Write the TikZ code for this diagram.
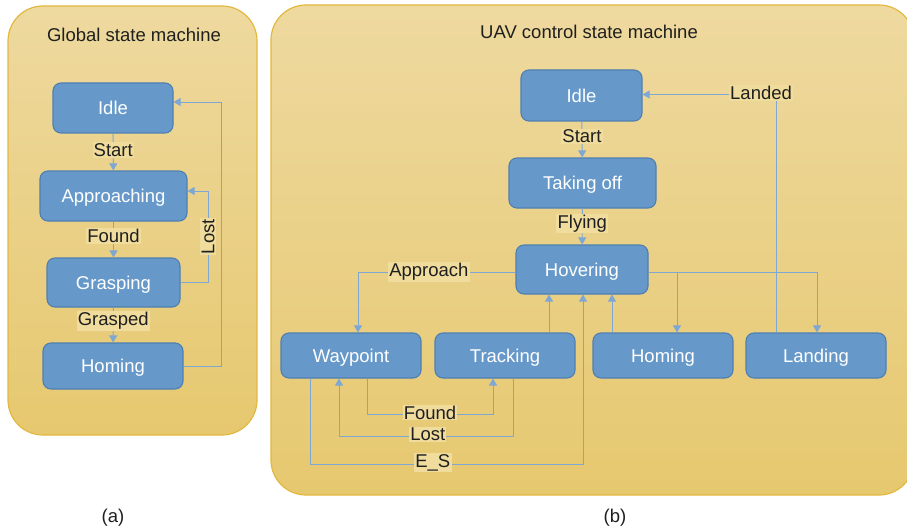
\documentclass[tikz,border=0pt]{standalone}
\usepackage{fontspec}
\setmainfont{Liberation Sans}
\usetikzlibrary{arrows.meta}
\definecolor{panelTop}{HTML}{EED99F}
\definecolor{panelBot}{HTML}{E6C86F}
\definecolor{panelLine}{HTML}{E3B840}
\definecolor{nodeFill}{HTML}{6699C9}
\definecolor{nodeLine}{HTML}{4F7FB2}
\definecolor{wireCol}{HTML}{7FA7D4}
\definecolor{lblbg}{HTML}{F0DC9C}
\begin{document}
\begin{tikzpicture}[x=1pt,y=-1pt,
  state/.style={draw=nodeLine, line width=1.1pt, fill=nodeFill, rounded corners=8pt,
    text=white, font=\fontsize{18.5}{22}\selectfont, inner sep=0pt, text height=13.2pt, text depth=0pt},
  lbl/.style={fill=lblbg, text=black!88, font=\fontsize{18.5}{22}\selectfont, inner sep=1.2pt},
  wire/.style={draw=wireCol, line width=0.9pt, -{Triangle[length=7pt,width=8pt]}},
  panel/.style={draw=panelLine, line width=1.2pt, top color=panelTop, bottom color=panelBot, rounded corners=35pt},
  ttl/.style={text=black!88, font=\fontsize{18.5}{22}\selectfont}]
\useasboundingbox (0,0) rectangle (907,532);
% panels
\path[panel] (8,6) rectangle (257,435);
\path[panel] (271,5) rectangle (914,495);
\node[ttl] (gTitle) at (134,35) {Global state machine};
\node[ttl] (uTitle) at (589,32) {UAV control state machine};
\node[ttl] (capA) at (113,518) {(a)};
\node[ttl] (capB) at (615,518) {(b)};
% left states
\node[state, minimum width=120pt, minimum height=50pt] (gIdle) at (113,108) {Idle};
\node[state, minimum width=147pt, minimum height=50pt] (gApp) at (113.5,196) {Approaching};
\node[state, minimum width=133pt, minimum height=49pt] (gGrasp) at (113.5,282.5) {Grasping};
\node[state, minimum width=140pt, minimum height=46pt] (gHome) at (113,366) {Homing};
\coordinate (lostx) at (208,0);
\coordinate (retx) at (221,0);
\draw[wire] (gIdle) -- node[lbl, pos=0.45]{Start} (gApp);
\draw[wire] (gApp) -- node[lbl, pos=0.4]{Found} (gGrasp);
\draw[wire] (gGrasp) -- node[lbl, pos=0.38]{Grasped} (gHome);
\draw[wire] (gGrasp.east) -- (gGrasp.east -| lostx) -- node[lbl, rotate=90]{Lost} ([yshift=5pt]gApp.east -| lostx) -- ([yshift=5pt]gApp.east);
\draw[wire] (gHome.east) -- (gHome.east -| retx) -- ([yshift=6pt]gIdle.east -| retx) -- ([yshift=6pt]gIdle.east);
% right states
\node[state, minimum width=121pt, minimum height=51pt] (rIdle) at (581.5,95.5) {Idle};
\node[state, minimum width=147pt, minimum height=50pt] (rTake) at (582.5,183) {Taking off};
\node[state, minimum width=132pt, minimum height=49pt] (rHover) at (582,269.5) {Hovering};
\node[state, minimum width=140pt, minimum height=45pt] (rWay) at (351,355.5) {Waypoint};
\node[state, minimum width=140pt, minimum height=45pt] (rTrack) at (505,355.5) {Tracking};
\node[state, minimum width=140pt, minimum height=45pt] (rHome) at (663,355.5) {Homing};
\node[state, minimum width=140pt, minimum height=45pt] (rLand) at (816,355.5) {Landing};
\draw[wire] (rIdle) -- node[lbl, pos=0.42]{Start} (rTake);
\draw[wire] (rTake) -- node[lbl, pos=0.42]{Flying} (rHover);
\coordinate (apx) at (358,0);
\draw[wire] ([yshift=-2.5pt]rHover.west) -- node[lbl, pos=0.55]{Approach} ([yshift=-2.5pt]rHover.west -| apx) -- (rWay.north -| apx);
\coordinate (tx) at (549,0);
\coordinate (hmx) at (612,0);
\draw[wire] (rTrack.north -| tx) -- (rHover.south -| tx);
\draw[wire] (rHome.north -| hmx) -- (rHover.south -| hmx);
\coordinate (hx) at (677,0);
\coordinate (lx) at (817,0);
\draw[wire] ([yshift=-2.5pt]rHover.east) -| (rHome.north -| hx);
\draw[wire] ([yshift=-2.5pt]rHover.east) -| (rLand.north -| lx);
\coordinate (ldx) at (776,0);
\draw[wire] (rLand.north -| ldx) |- node[lbl, pos=0.556, yshift=1.5pt]{Landed} ([yshift=1pt]rIdle.east);
% lower loops
\coordinate (f1) at (367,414);
\coordinate (f2) at (493,414);
\draw[wire] (rWay.south -| f1) -- (f1) -- node[lbl, yshift=1.5pt]{Found} (f2) -- (rTrack.south -| f2);
\coordinate (l1) at (513,436);
\coordinate (l2) at (339,436);
\draw[wire] (rTrack.south -| l1) -- (l1) -- node[lbl, pos=0.49, yshift=1.5pt]{Lost} (l2) -- (rWay.south -| l2);
\coordinate (e1) at (310,464);
\coordinate (e2) at (583,464);
\draw[wire] (rWay.south -| e1) -- (e1) -- node[lbl, pos=0.45, yshift=1.5pt]{E\_S} (e2) -- (rHover.south -| e2);
\end{tikzpicture}
\end{document}
